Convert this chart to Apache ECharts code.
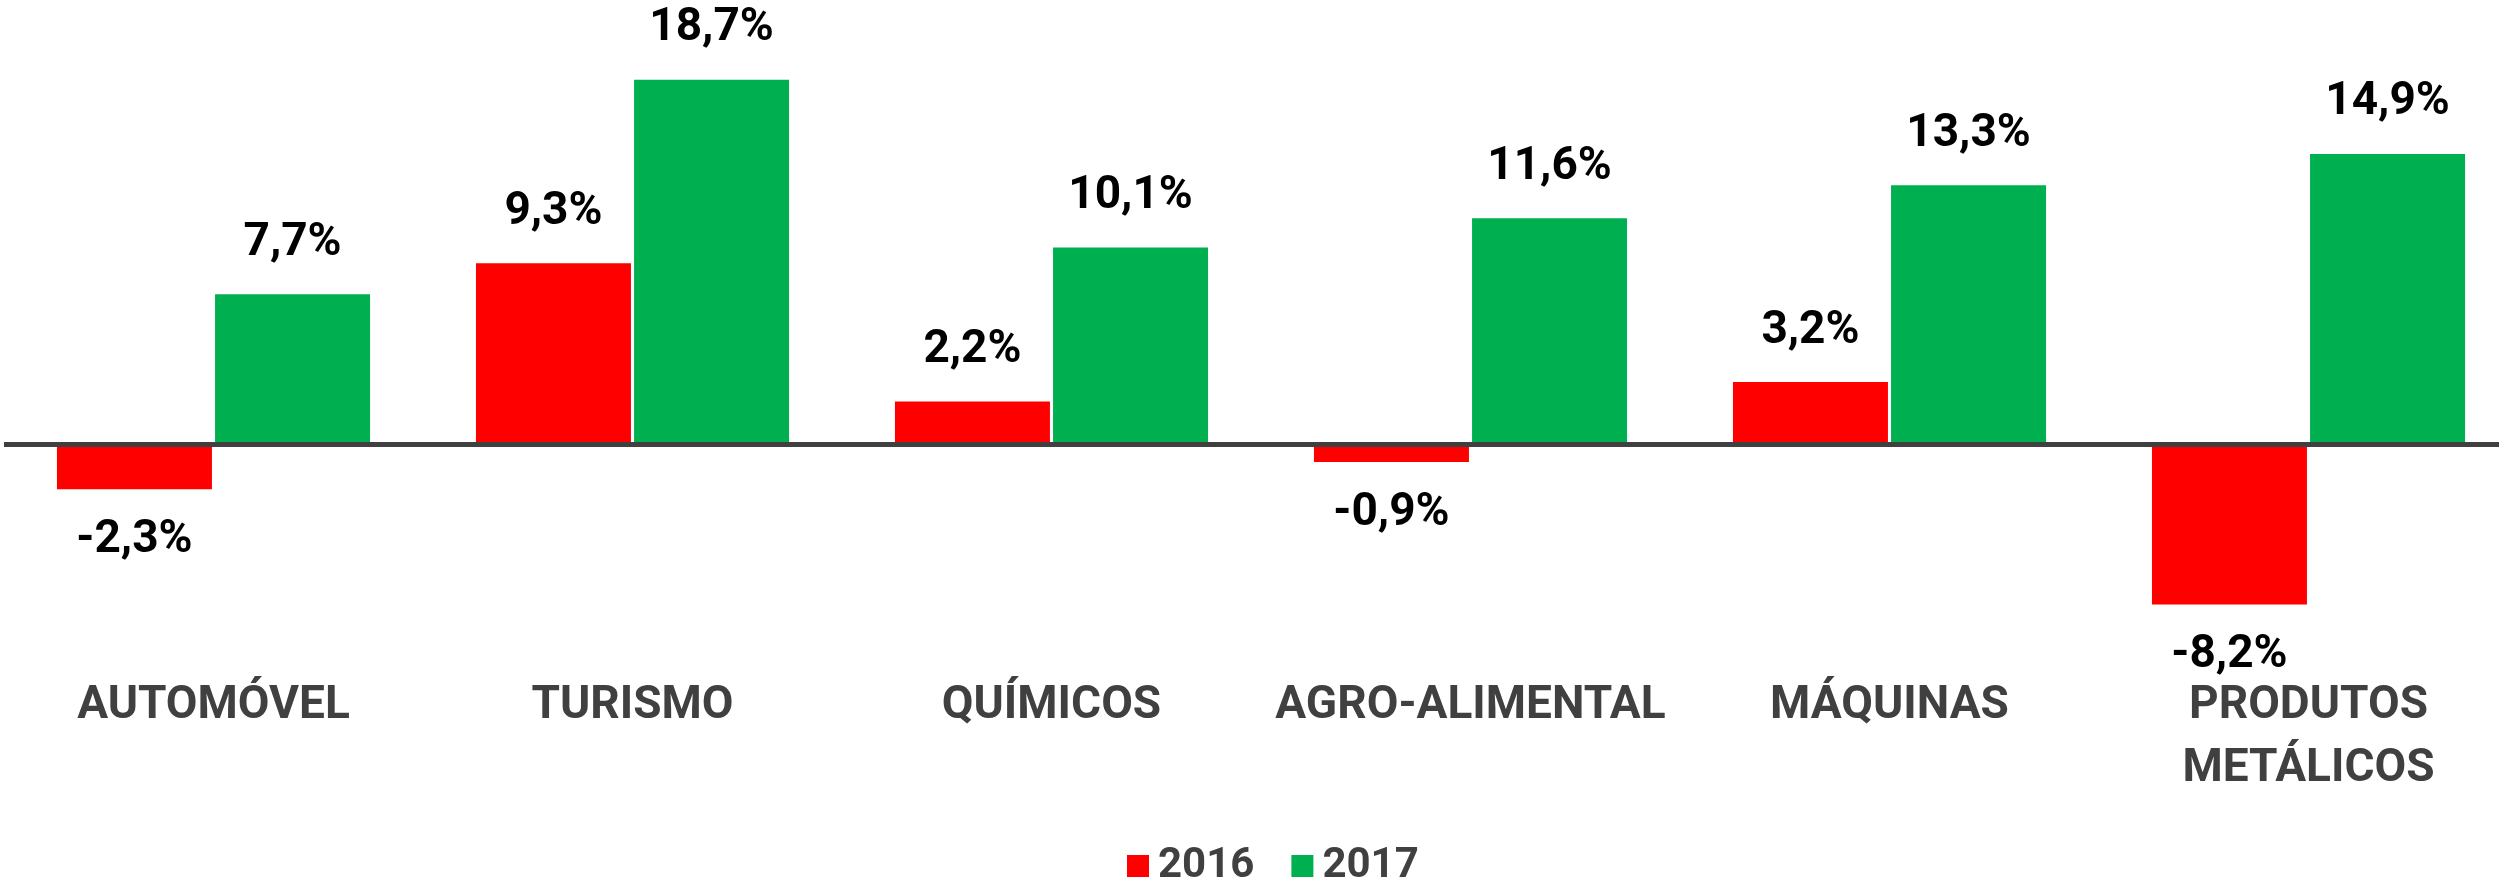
<!DOCTYPE html>
<html>
<head>
<meta charset="utf-8">
<script src="https://cdn.jsdelivr.net/npm/echarts@6/dist/echarts.min.js"></script>
<style>
html,body{margin:0;padding:0;background:#fff;overflow:hidden;width:2499px;height:877px;}
#c{width:2518px;height:877px;}
</style>
</head>
<body>
<div id="c"></div>
<script>
const categories = ['AUTOMÓVEL', 'TURISMO', 'QUÍMICOS', 'AGRO-ALIMENTAL', 'MÁQUINAS', 'PRODUTOS\nMETÁLICOS'];
const seriesNames = ['2016', '2017'];
const values2016 = [-2.3, 9.3, 2.2, -0.9, 3.2, -8.2];
const values2017 = [7.7, 18.7, 10.1, 11.6, 13.3, 14.9];
const colors = ['#FF0000', '#00B050'];

const fmt = v => v.toFixed(1).replace('.', ',') + '%';
const labelStyle = {
  show: true,
  distance: 28,
  fontFamily: 'Roboto',
  fontWeight: 'bold',
  fontSize: 46,
  color: '#000000',
  formatter: p => fmt(p.value)
};
const toData = arr => arr.map(v => ({
  value: v,
  label: { position: v < 0 ? 'bottom' : 'top' }
}));

const chart = echarts.init(document.getElementById('c'), null, { renderer: 'canvas' });
chart.setOption({
  animation: false,
  backgroundColor: '#ffffff',
  grid: { left: 4, right: 0, top: 54.5, height: 585 },
  legend: {
    left: 1122,
    top: 840,
    itemWidth: 22,
    itemHeight: 22,
    itemGap: 37,
    icon: 'rect',
    textStyle: { fontFamily: 'Roboto', fontWeight: 'bold', fontSize: 42, color: '#404040', padding: [0, 0, 0, 4] },
    data: seriesNames
  },
  xAxis: {
    type: 'category',
    data: categories,
    axisLine: { show: false, onZero: false },
    axisTick: { show: false },
    axisLabel: {
      interval: 0,
      margin: 35,
      fontFamily: 'Roboto',
      fontWeight: 'bold',
      fontSize: 46,
      lineHeight: 63,
      color: '#404040'
    }
  },
  yAxis: {
    type: 'value',
    min: -10,
    max: 20,
    show: false,
    splitLine: { show: false }
  },
  series: [
    {
      name: seriesNames[0],
      type: 'bar',
      data: toData(values2016),
      barWidth: 155,
      barGap: '2%',
      itemStyle: { color: colors[0] },
      label: labelStyle,
      markLine: {
        silent: true,
        symbol: 'none',
        label: { show: false },
        lineStyle: { color: '#404040', width: 5, type: 'solid' },
        data: [{ yAxis: 0 }]
      }
    },
    {
      name: seriesNames[1],
      type: 'bar',
      data: toData(values2017),
      barWidth: 155,
      barGap: '2%',
      itemStyle: { color: colors[1] },
      label: labelStyle
    }
  ]
});
</script>
</body>
</html>
